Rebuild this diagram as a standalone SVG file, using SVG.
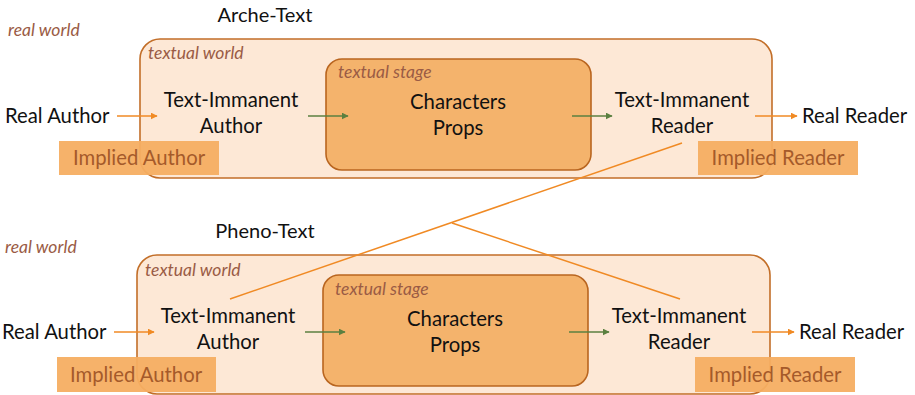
<svg xmlns="http://www.w3.org/2000/svg" width="915" height="395" viewBox="0 0 915 395">
<defs>
<marker id="ao" viewBox="0 0 10 10" refX="9" refY="5" markerWidth="7" markerHeight="7" markerUnits="userSpaceOnUse" orient="auto"><path d="M0,0 L10,5 L0,10 z" fill="#F08A24"/></marker>
<marker id="ag" viewBox="0 0 10 10" refX="9" refY="5" markerWidth="7" markerHeight="7" markerUnits="userSpaceOnUse" orient="auto"><path d="M0,0 L10,5 L0,10 z" fill="#5B8040"/></marker>
<style>
text{font-family:Lato,"Open Sans","Liberation Sans",sans-serif;}
.t{font-size:20.3px;fill:#111;}
.h{font-size:20px;fill:#111;}
.lbl{font-size:17.5px;font-style:italic;fill:#9A5B45;}
.world{fill:#FDE8D6;stroke:#C26E28;stroke-width:1.6;}
.stage{fill:#F4B36C;stroke:#B9651F;stroke-width:1.6;}
.imp{fill:#F6AE62;opacity:0.95;}
.impt{font-size:20.3px;fill:#A55A2A;}
.ao{stroke:#F08A24;stroke-width:1.6;fill:none;}
.ag{stroke:#5B8040;stroke-width:1.4;fill:none;}
.x{stroke:#F08A24;stroke-width:1.5;fill:none;}
</style>
</defs>
<rect width="915" height="395" fill="#fff"/>

<g id="top">
<text class="h" x="265" y="22" text-anchor="middle">Arche-Text</text>
<text class="lbl" x="8" y="36">real world</text>
<g id="top-world"><rect class="world" x="140" y="39" width="632" height="139" rx="20"/><text class="lbl" x="148" y="59">textual world</text></g>
<g id="top-stage"><rect class="stage" x="326" y="59" width="265" height="111" rx="16"/><text class="lbl" x="338" y="78">textual stage</text>
<text class="t" x="458" y="109" text-anchor="middle">Characters</text><text class="t" x="458" y="135" text-anchor="middle">Props</text></g>
<g id="top-realauthor"><text class="t" x="5" y="123">Real Author</text></g>
<g id="top-tiauthor"><text class="t" x="231" y="107" text-anchor="middle">Text-Immanent</text><text class="t" x="231" y="133" text-anchor="middle">Author</text></g>
<g id="top-tireader"><text class="t" x="682" y="107" text-anchor="middle">Text-Immanent</text><text class="t" x="682" y="133" text-anchor="middle">Reader</text></g>
<g id="top-realreader"><text class="t" x="802" y="123">Real Reader</text></g>
<g id="top-impauthor"><rect class="imp" x="59" y="141" width="160" height="34"/><text class="impt" x="139" y="165" text-anchor="middle">Implied Author</text></g>
<g id="top-impreader"><rect class="imp" x="698" y="141" width="160" height="34"/><text class="impt" x="778" y="165" text-anchor="middle">Implied Reader</text></g>
</g>

<g id="bottom">
<text class="h" x="265" y="238" text-anchor="middle">Pheno-Text</text>
<text class="lbl" x="5" y="253">real world</text>
<g id="bot-world"><rect class="world" x="137" y="255" width="633" height="139" rx="20"/><text class="lbl" x="145" y="276">textual world</text></g>
<g id="bot-stage"><rect class="stage" x="323" y="275" width="265" height="111" rx="16"/><text class="lbl" x="335" y="295">textual stage</text>
<text class="t" x="455" y="326" text-anchor="middle">Characters</text><text class="t" x="455" y="352" text-anchor="middle">Props</text></g>
<g id="bot-realauthor"><text class="t" x="2" y="339">Real Author</text></g>
<g id="bot-tiauthor"><text class="t" x="228" y="323" text-anchor="middle">Text-Immanent</text><text class="t" x="228" y="349" text-anchor="middle">Author</text></g>
<g id="bot-tireader"><text class="t" x="679" y="323" text-anchor="middle">Text-Immanent</text><text class="t" x="679" y="349" text-anchor="middle">Reader</text></g>
<g id="bot-realreader"><text class="t" x="799" y="339">Real Reader</text></g>
<g id="bot-impauthor"><rect class="imp" x="57" y="357" width="159" height="35"/><text class="impt" x="136" y="382" text-anchor="middle">Implied Author</text></g>
<g id="bot-impreader"><rect class="imp" x="695" y="357" width="160" height="35"/><text class="impt" x="775" y="382" text-anchor="middle">Implied Reader</text></g>
</g>

<g id="connectors">
<line class="ao" x1="117" y1="116" x2="157" y2="116" marker-end="url(#ao)"/>
<line class="ag" x1="308" y1="116" x2="348" y2="116" marker-end="url(#ag)"/>
<line class="ag" x1="572" y1="116" x2="612" y2="116" marker-end="url(#ag)"/>
<line class="ao" x1="755" y1="116" x2="797" y2="116" marker-end="url(#ao)"/>
<line class="ao" x1="114" y1="332" x2="154" y2="332" marker-end="url(#ao)"/>
<line class="ag" x1="305" y1="332" x2="345" y2="332" marker-end="url(#ag)"/>
<line class="ag" x1="569" y1="332" x2="609" y2="332" marker-end="url(#ag)"/>
<line class="ao" x1="752" y1="332" x2="794" y2="332" marker-end="url(#ao)"/>
<line class="x" x1="682" y1="143" x2="230" y2="299"/>
<line class="x" x1="452" y1="223" x2="680" y2="299"/>
</g>
</svg>
